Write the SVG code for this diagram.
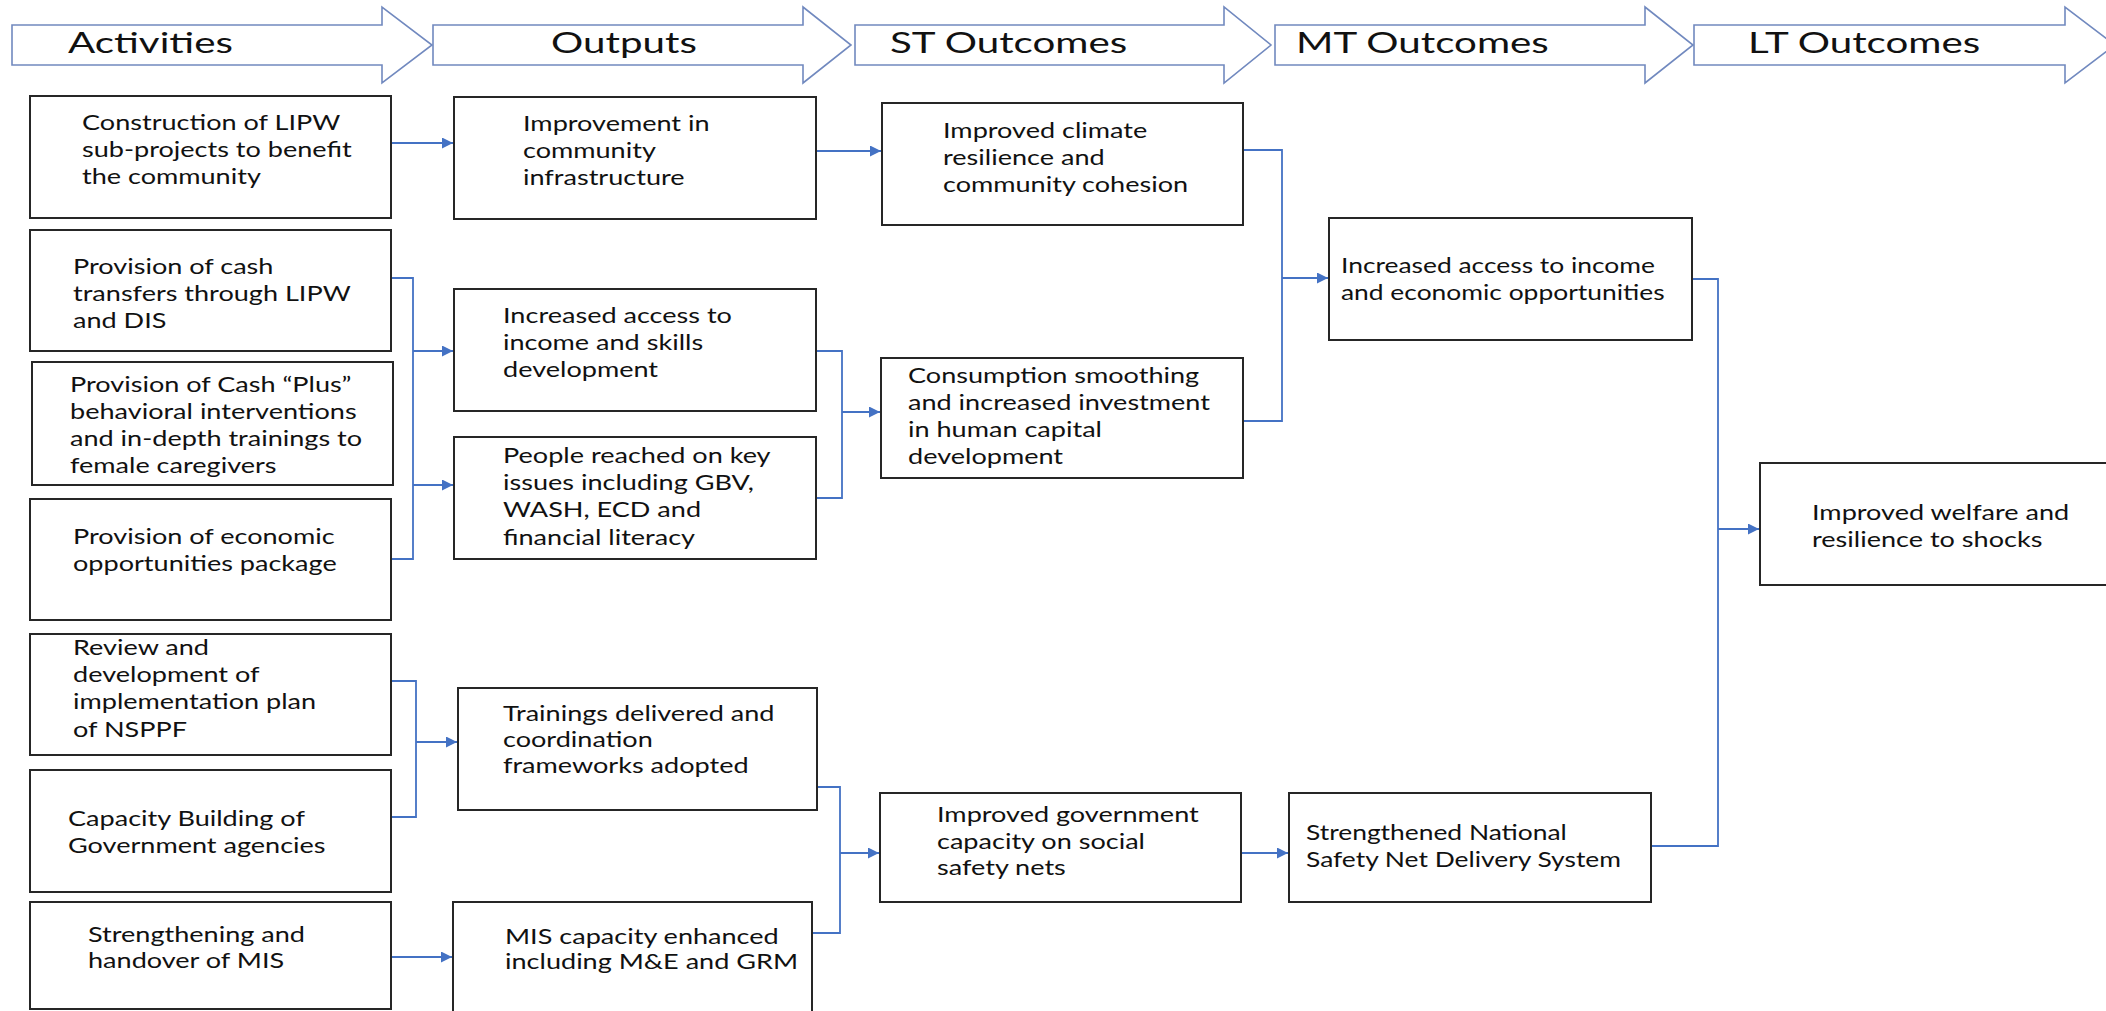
<svg xmlns="http://www.w3.org/2000/svg" width="2106" height="1011" viewBox="0 0 2106 1011">
<style>
.hdr{fill:#fff;stroke:#7189BF;stroke-width:1.6}
.ht{font-family:Lato,"Liberation Sans",sans-serif;font-size:28px;fill:#111}
.box{fill:#fff;stroke:#262626;stroke-width:2}
.n{font-family:Lato,"Liberation Sans",sans-serif;font-size:22px;fill:#111}
.c{fill:none;stroke:#4472C4;stroke-width:1.8}
</style>
<defs>
<marker id="ah" viewBox="0 0 10 10" refX="10" refY="5" markerWidth="12" markerHeight="11" markerUnits="userSpaceOnUse" orient="auto"><path d="M0,0 L10,5 L0,10 z" fill="#4472C4"/></marker>
</defs>
<rect width="2106" height="1011" fill="#fff"/>
<g id="header">
<g id="h-activities"><path class="hdr" d="M12,25 H382 V7 L432,45 L382,83 V65 H12 Z"/><text class="ht" transform="translate(68,53) scale(1.44,1)">Activities</text></g>
<g id="h-outputs"><path class="hdr" d="M433,25 H803 V7 L851,45 L803,83 V65 H433 Z"/><text class="ht" transform="translate(551,53) scale(1.44,1)">Outputs</text></g>
<g id="h-st"><path class="hdr" d="M855,25 H1224 V7 L1271,45 L1224,83 V65 H855 Z"/><text class="ht" transform="translate(890,53) scale(1.44,1)">ST Outcomes</text></g>
<g id="h-mt"><path class="hdr" d="M1275,25 H1645 V7 L1693,45 L1645,83 V65 H1275 Z"/><text class="ht" transform="translate(1296,53) scale(1.44,1)">MT Outcomes</text></g>
<g id="h-lt"><path class="hdr" d="M1694,25 H2065 V7 L2115,45 L2065,83 V65 H1694 Z"/><text class="ht" transform="translate(1748,53) scale(1.44,1)">LT Outcomes</text></g>
</g>
<g id="connectors">
<path class="c" d="M391,143 H453" marker-end="url(#ah)"/>
<path class="c" d="M816,151 H881" marker-end="url(#ah)"/>
<path class="c" d="M391,278 H413 V559 H391"/>
<path class="c" d="M413,351 H453" marker-end="url(#ah)"/>
<path class="c" d="M413,485 H453" marker-end="url(#ah)"/>
<path class="c" d="M816,351 H842 V498 H816"/>
<path class="c" d="M842,412 H880" marker-end="url(#ah)"/>
<path class="c" d="M1243,150 H1282 V421 H1243"/>
<path class="c" d="M1282,278 H1328" marker-end="url(#ah)"/>
<path class="c" d="M391,681 H416 V817 H391"/>
<path class="c" d="M416,742 H457" marker-end="url(#ah)"/>
<path class="c" d="M391,957 H452" marker-end="url(#ah)"/>
<path class="c" d="M817,787 H840 V933 H812"/>
<path class="c" d="M840,853 H879" marker-end="url(#ah)"/>
<path class="c" d="M1241,853 H1288" marker-end="url(#ah)"/>
<path class="c" d="M1692,279 H1718 V846 H1651"/>
<path class="c" d="M1718,529 H1759" marker-end="url(#ah)"/>
</g>
<g id="A1"><rect class="box" x="30" y="96" width="361" height="122"/><text class="n" transform="translate(82,130) scale(1.23,1)"><tspan x="0" y="0">Construction of LIPW</tspan><tspan x="0" y="27">sub-projects to benefit</tspan><tspan x="0" y="54">the community</tspan></text></g>
<g id="A2"><rect class="box" x="30" y="230" width="361" height="121"/><text class="n" transform="translate(73,274) scale(1.23,1)"><tspan x="0" y="0">Provision of cash</tspan><tspan x="0" y="27">transfers through LIPW</tspan><tspan x="0" y="54">and DIS</tspan></text></g>
<g id="A3"><rect class="box" x="32" y="362" width="361" height="123"/><text class="n" transform="translate(70,392) scale(1.23,1)"><tspan x="0" y="0">Provision of Cash “Plus”</tspan><tspan x="0" y="27">behavioral interventions</tspan><tspan x="0" y="54">and in-depth trainings to</tspan><tspan x="0" y="81">female caregivers</tspan></text></g>
<g id="A4"><rect class="box" x="30" y="499" width="361" height="121"/><text class="n" transform="translate(73,544) scale(1.23,1)"><tspan x="0" y="0">Provision of economic</tspan><tspan x="0" y="27">opportunities package</tspan></text></g>
<g id="A5"><rect class="box" x="30" y="634" width="361" height="121"/><text class="n" transform="translate(73,655) scale(1.23,1)"><tspan x="0" y="0">Review and</tspan><tspan x="0" y="27">development of</tspan><tspan x="0" y="54">implementation plan</tspan><tspan x="0" y="82">of NSPPF</tspan></text></g>
<g id="A6"><rect class="box" x="30" y="770" width="361" height="122"/><text class="n" transform="translate(68,826) scale(1.23,1)"><tspan x="0" y="0">Capacity Building of</tspan><tspan x="0" y="27">Government agencies</tspan></text></g>
<g id="A7"><rect class="box" x="30" y="902" width="361" height="107"/><text class="n" transform="translate(88,942) scale(1.23,1)"><tspan x="0" y="0">Strengthening and</tspan><tspan x="0" y="26">handover of MIS</tspan></text></g>
<g id="O1"><rect class="box" x="454" y="97" width="362" height="122"/><text class="n" transform="translate(523,131) scale(1.23,1)"><tspan x="0" y="0">Improvement in</tspan><tspan x="0" y="27">community</tspan><tspan x="0" y="54">infrastructure</tspan></text></g>
<g id="O2"><rect class="box" x="454" y="289" width="362" height="122"/><text class="n" transform="translate(503,323) scale(1.23,1)"><tspan x="0" y="0">Increased access to</tspan><tspan x="0" y="27">income and skills</tspan><tspan x="0" y="54">development</tspan></text></g>
<g id="O3"><rect class="box" x="454" y="437" width="362" height="122"/><text class="n" transform="translate(503,463) scale(1.23,1)"><tspan x="0" y="0">People reached on key</tspan><tspan x="0" y="27">issues including GBV,</tspan><tspan x="0" y="54">WASH, ECD and</tspan><tspan x="0" y="82">financial literacy</tspan></text></g>
<g id="O4"><rect class="box" x="458" y="688" width="359" height="122"/><text class="n" transform="translate(503,721) scale(1.23,1)"><tspan x="0" y="0">Trainings delivered and</tspan><tspan x="0" y="26">coordination</tspan><tspan x="0" y="52">frameworks adopted</tspan></text></g>
<g id="O5"><rect class="box" x="453" y="902" width="359" height="115"/><text class="n" transform="translate(505,944) scale(1.23,1)"><tspan x="0" y="0">MIS capacity enhanced</tspan><tspan x="0" y="25">including M&amp;E and GRM</tspan></text></g>
<g id="S1"><rect class="box" x="882" y="103" width="361" height="122"/><text class="n" transform="translate(943,138) scale(1.23,1)"><tspan x="0" y="0">Improved climate</tspan><tspan x="0" y="27">resilience and</tspan><tspan x="0" y="54">community cohesion</tspan></text></g>
<g id="S2"><rect class="box" x="881" y="358" width="362" height="120"/><text class="n" transform="translate(908,383) scale(1.23,1)"><tspan x="0" y="0">Consumption smoothing</tspan><tspan x="0" y="27">and increased investment</tspan><tspan x="0" y="54">in human capital</tspan><tspan x="0" y="81">development</tspan></text></g>
<g id="S3"><rect class="box" x="880" y="793" width="361" height="109"/><text class="n" transform="translate(937,822) scale(1.23,1)"><tspan x="0" y="0">Improved government</tspan><tspan x="0" y="27">capacity on social</tspan><tspan x="0" y="53">safety nets</tspan></text></g>
<g id="M1"><rect class="box" x="1329" y="218" width="363" height="122"/><text class="n" transform="translate(1341,273) scale(1.2,1)"><tspan x="0" y="0">Increased access to income</tspan><tspan x="0" y="27">and economic opportunities</tspan></text></g>
<g id="M2"><rect class="box" x="1289" y="793" width="362" height="109"/><text class="n" transform="translate(1306,840) scale(1.2,1)"><tspan x="0" y="0">Strengthened National</tspan><tspan x="0" y="27">Safety Net Delivery System</tspan></text></g>
<g id="LT1"><rect class="box" x="1760" y="463" width="360" height="122"/><text class="n" transform="translate(1812,520) scale(1.23,1)"><tspan x="0" y="0">Improved welfare and</tspan><tspan x="0" y="27">resilience to shocks</tspan></text></g>
</svg>
